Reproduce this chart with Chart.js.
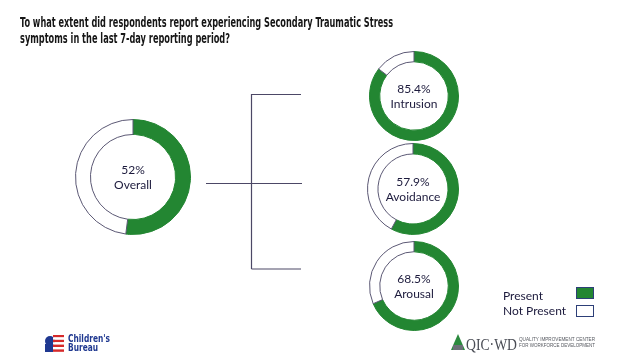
<!DOCTYPE html>
<html>
<head>
<meta charset="utf-8">
<script src="https://cdn.jsdelivr.net/npm/chart.js@4"></script>
<style>
  body { margin: 0; background: #fff; }
  #stage { position: relative; width: 636px; height: 362px; overflow: hidden; }
  #stage canvas { position: absolute; }
</style>
</head>
<body>
<div id="stage">
  <canvas id="bg" width="636" height="362" style="left:0;top:0"></canvas>
  <canvas id="overall"></canvas>
  <canvas id="intrusion"></canvas>
  <canvas id="avoidance"></canvas>
  <canvas id="arousal"></canvas>
</div>
<script>
// data
var titleLines = ["To what extent did respondents report experiencing Secondary Traumatic Stress",
                  "symptoms in the last 7-day reporting period?"];
var legendLabels = ["Present", "Not Present"];
var chartNames = ["Overall", "Intrusion", "Avoidance", "Arousal"];
var presentPct = [52, 85.4, 57.9, 68.5];
var pctLabels = ["52%", "85.4%", "57.9%", "68.5%"];

var green = "#238632";
var ringLine = "#5b5874";
var textCol = "#1c1a3c";

/**
 * 中心文字
 */
var centerText = {
	id: "centerText",
	afterDraw: function(chart){
		var ctx = chart.ctx;
		var a = chart.chartArea;
		var cx = (a.left + a.right) / 2, cy = (a.top + a.bottom) / 2;
		var i = chart.options.plugins.centerText.index;
		ctx.save();
		ctx.fillStyle = textCol;
		ctx.font = "12px Lato, 'Open Sans', sans-serif";
		ctx.textAlign = "center";
		ctx.textBaseline = "middle";
		ctx.fillText(pctLabels[i], cx, cy - 7);
		ctx.fillText(chartNames[i], cx, cy + 8);
		ctx.restore();
	}
};

function paintRing(id, i, cx, cy, size, cut){
	var cv = document.getElementById(id);
	cv.width = size; cv.height = size;
	cv.style.left = (cx - size / 2) + "px";
	cv.style.top = (cy - size / 2) + "px";
	new Chart(cv.getContext("2d"), {
		type: "doughnut",
		data: {
			labels: legendLabels,
			datasets: [{
				data: [presentPct[i], 100 - presentPct[i]],
				backgroundColor: [green, "#ffffff"],
				borderColor: [green, ringLine],
				borderWidth: 1
			}]
		},
		options: {
			responsive: false,
			animation: false,
			cutout: cut,
			layout: { padding: 0 },
			plugins: {
				legend: { display: false },
				tooltip: { enabled: false },
				centerText: { index: i }
			}
		},
		plugins: [centerText]
	});
}

paintRing("overall", 0, 132.5, 177, 116, "74%");
paintRing("intrusion", 1, 414, 96, 90, "77%");
paintRing("avoidance", 2, 413, 189, 92, "77%");
paintRing("arousal", 3, 413.5, 286, 90, "77%");

// title, connectors, legend, logos
var c = document.getElementById("bg").getContext("2d");

function fitText(txt, x, y, w){
	var nat = c.measureText(txt).width;
	c.save();
	c.translate(x, y);
	c.scale(w / nat, 1);
	c.fillText(txt, 0, 0);
	c.restore();
}

c.fillStyle = "#161616";
c.font = "bold 14px 'Liberation Sans Narrow', 'DejaVu Sans Condensed', sans-serif";
c.textBaseline = "alphabetic";
fitText(titleLines[0], 20, 27, 373);
fitText(titleLines[1], 20, 43, 210);

// connector lines
c.strokeStyle = "#4c4866";
c.lineWidth = 1.2;
c.beginPath();
c.moveTo(206, 183.5); c.lineTo(302, 183.5);
c.moveTo(251.5, 94); c.lineTo(251.5, 269);
c.moveTo(251.5, 94.5); c.lineTo(301, 94.5);
c.moveTo(251.5, 269); c.lineTo(301, 269);
c.stroke();

// legend
c.font = "12px Lato, 'Open Sans', sans-serif";
c.textBaseline = "middle";
var boxCols = [green, "#ffffff"];
var textY = [296, 311];
var boxY = [287, 305];
for (var k = 0; k < legendLabels.length; k++) {
	c.fillStyle = textCol;
	c.fillText(legendLabels[k], 503, textY[k]);
	c.fillStyle = boxCols[k];
	c.fillRect(576.5, boxY[k] + 0.5, 17, 11);
	c.strokeStyle = "#2d3f78";
	c.lineWidth = 1;
	c.strokeRect(576.5, boxY[k] + 0.5, 17, 11);
}

// Children's Bureau logo
c.fillStyle = "#1f3890";
c.beginPath();
c.arc(50, 341, 5, 0, Math.PI * 2);
c.fill();
c.fillRect(45, 344, 8, 8);
var stripes = ["#d62a2a", "#ffffff", "#d62a2a", "#ffffff", "#d62a2a", "#ffffff", "#d62a2a"];
for (var s = 0; s < stripes.length; s++) {
	c.fillStyle = stripes[s];
	c.fillRect(53, 335 + s * 2.4, 11, 2.4);
}
c.fillStyle = "#1f3890";
c.font = "bold 10px 'Liberation Sans Narrow', 'DejaVu Sans Condensed', sans-serif";
c.textBaseline = "alphabetic";
fitText("Children's", 68, 342, 42);
fitText("Bureau", 68, 351, 30);

// QIC-WD logo
c.fillStyle = "#2b8a3e";
c.beginPath();
c.moveTo(458, 334); c.lineTo(465, 350); c.lineTo(451, 350); c.closePath();
c.fill();
c.fillStyle = "#6c6f78";
c.fillRect(453, 345, 10, 5);
c.fillStyle = "#4a4d55";
c.font = "17px 'Liberation Serif', 'DejaVu Serif', serif";
fitText("QIC\u00b7WD", 466, 350, 51);
c.font = "5px 'Liberation Sans', sans-serif";
c.fillStyle = "#55585f";
fitText("QUALITY IMPROVEMENT CENTER", 519, 341, 76);
fitText("FOR WORKFORCE DEVELOPMENT", 519, 347, 76);
</script>
</body>
</html>
